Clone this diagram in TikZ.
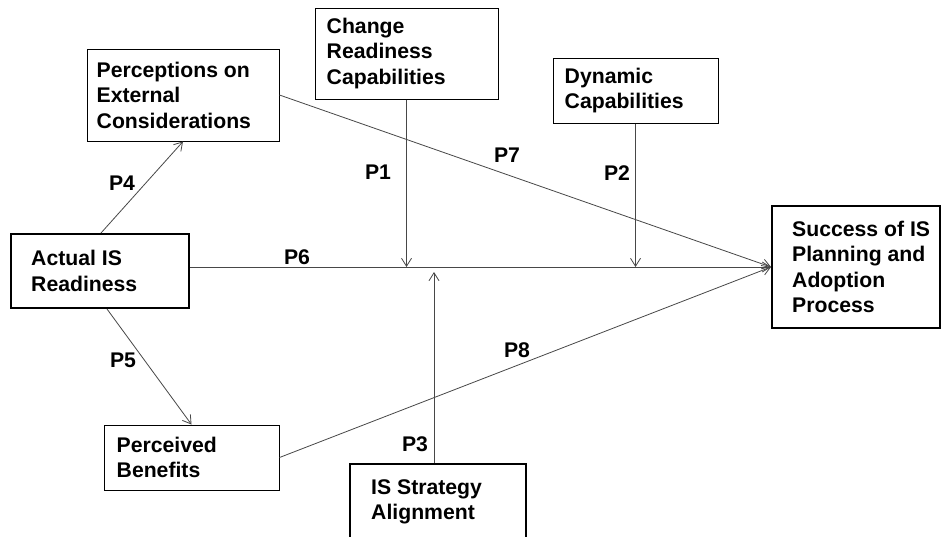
\documentclass[tikz,border=0pt]{standalone}
\usepackage{fontspec}
\setmainfont{Liberation Sans}
\usetikzlibrary{arrows.meta}
\begin{document}
\begin{tikzpicture}[x=1pt,y=-1pt,
  thinbox/.style={draw=black, line width=1pt, inner sep=0pt},
  thickbox/.style={draw=black, line width=2pt, inner sep=0pt},
  lbl/.style={font=\bfseries\fontsize{21.2}{25.5}\selectfont, align=left, inner sep=0pt, anchor=west},
  plab/.style={font=\bfseries\fontsize{21.2}{25.5}\selectfont, inner sep=0pt},
  conn/.style={draw=black!72, line width=0.8pt, -{Straight Barb[length=8pt,width=10pt]}}
]
\clip (0,0) rectangle (941,536);
\fill[white] (0,0) rectangle (941,536);

% boxes
\node[thinbox, minimum width=192pt, minimum height=92pt] (pec) at (183,95) {};
\node[thinbox, minimum width=183pt, minimum height=91pt] (crc) at (406.5,53.5) {};
\node[thinbox, minimum width=165pt, minimum height=65pt] (dyn) at (635.5,90.5) {};
\node[thickbox, minimum width=178pt, minimum height=74pt] (air) at (100,271) {};
\node[thickbox, minimum width=168pt, minimum height=122pt] (suc) at (856,267) {};
\node[thinbox, minimum width=175pt, minimum height=65pt] (pb) at (191.5,457.5) {};
\node[thickbox, minimum width=176pt, minimum height=76pt] (isa) at (438,502) {};

% box texts
\node[lbl] (tpec) at ([xshift=10pt]pec.west) {Perceptions on\\External\\Considerations};
\node[lbl] (tcrc) at ([xshift=12pt]crc.west) {Change\\Readiness\\Capabilities};
\node[lbl] (tdyn) at ([xshift=12pt]dyn.west) {Dynamic\\Capabilities};
\node[lbl] (tair) at ([xshift=21pt]air.west) {Actual IS\\Readiness};
\node[lbl] (tsuc) at ([xshift=21pt]suc.west) {Success of IS\\Planning and\\Adoption\\Process};
\node[lbl] (tpb) at ([xshift=13pt]pb.west) {Perceived\\Benefits};
\node[lbl] (tisa) at ([xshift=22pt]isa.west) {IS Strategy\\Alignment};

% connectors
\coordinate (p3tip) at (434,272);
\draw[conn] ([xshift=1pt]air.north) -- (pec.south);
\draw[conn] ([xshift=7pt]air.south) -- (pb.north);
\draw[conn] (air.east |- suc.west) -- (suc.west);
\draw[conn] (pec.east) -- (suc.west);
\draw[conn] (pb.east) -- (suc.west);
\draw[conn] (crc.south) -- (crc.south |- suc.west);
\draw[conn] (dyn.south) -- (dyn.south |- suc.west);
\draw[conn] (isa.north -| p3tip) -- (p3tip);

% proposition labels
\node[plab] (P1) at (378,172) {P1};
\node[plab] (P2) at (617,173) {P2};
\node[plab] (P3) at (415,444) {P3};
\node[plab] (P4) at (122,183) {P4};
\node[plab] (P5) at (123,360) {P5};
\node[plab] (P6) at (297,257) {P6};
\node[plab] (P7) at (507,155) {P7};
\node[plab] (P8) at (517,350) {P8};
\end{tikzpicture}
\end{document}
